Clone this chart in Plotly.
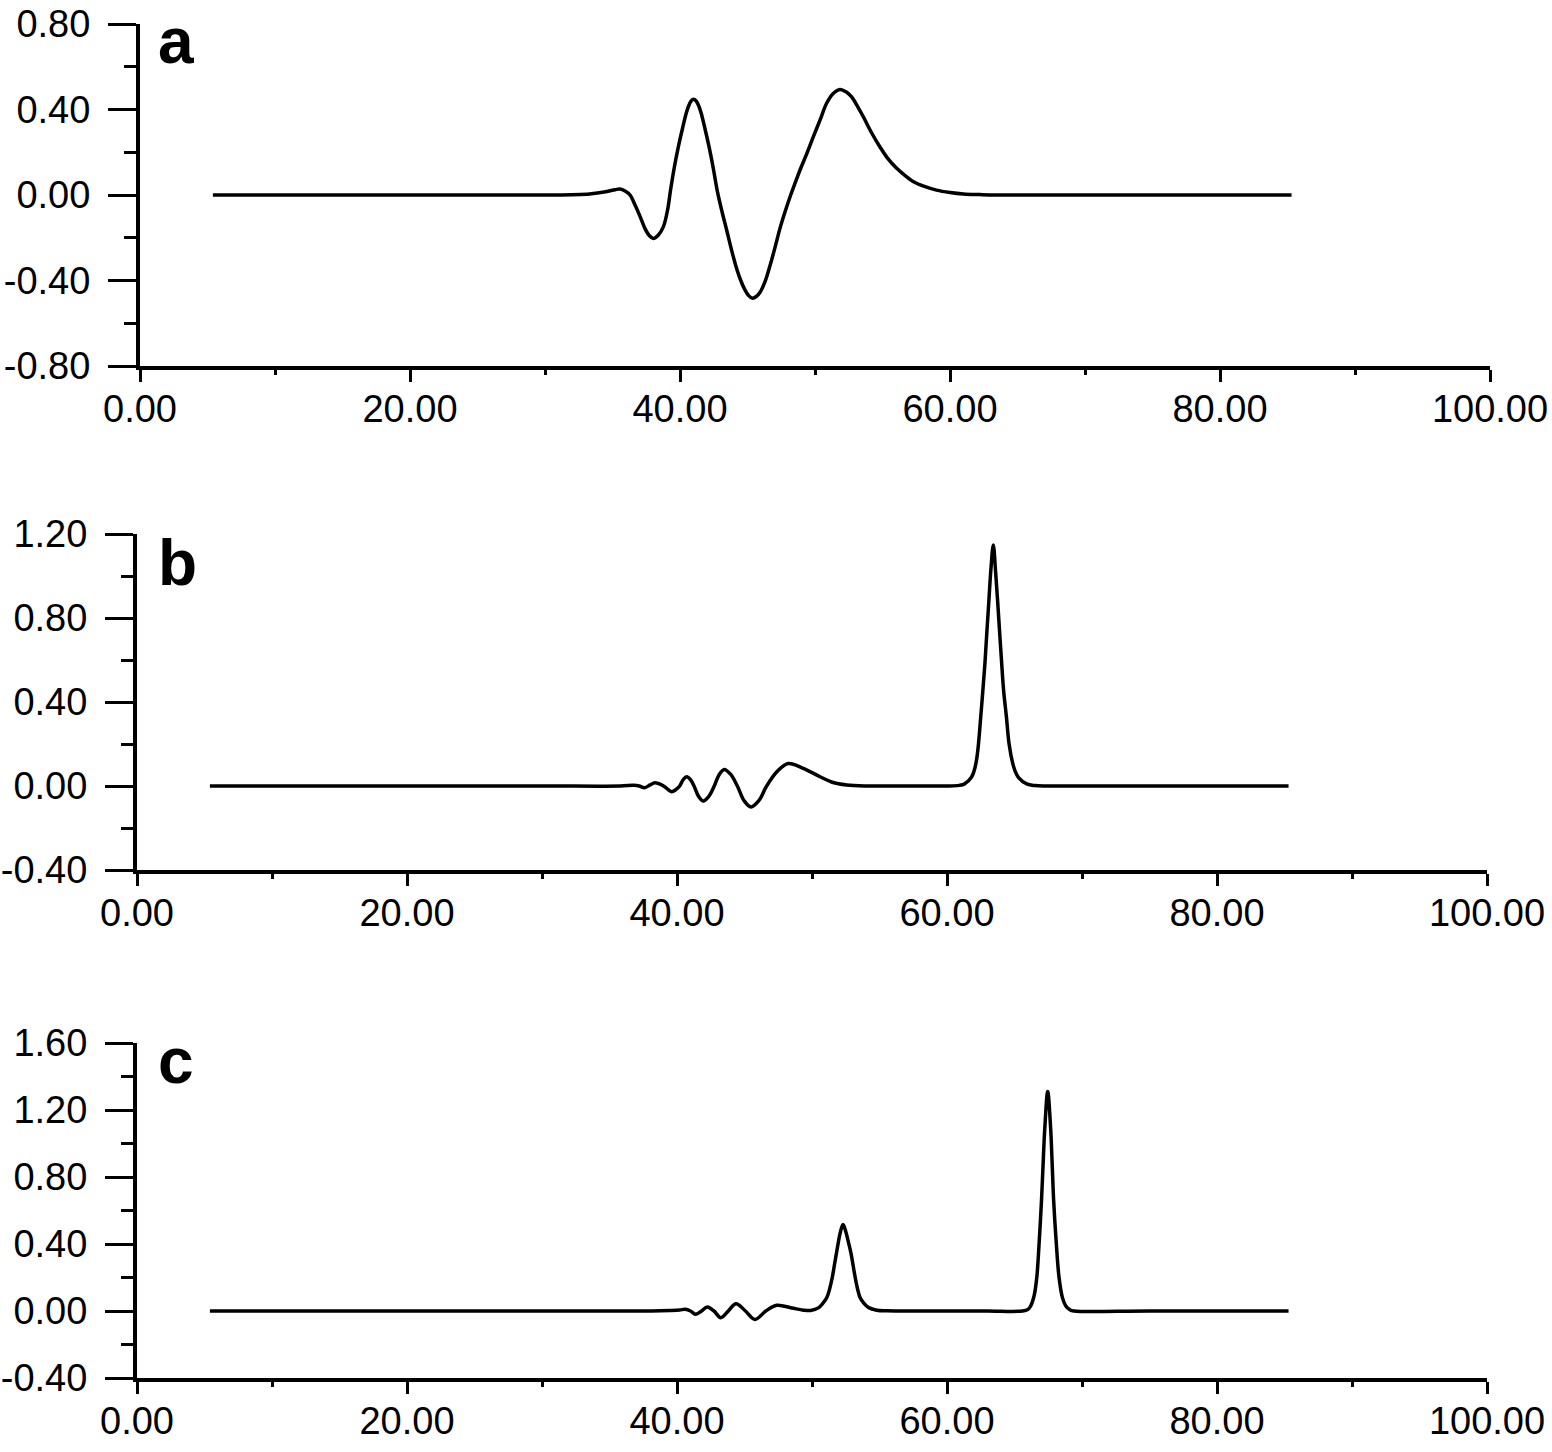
import plotly.graph_objects as go

# ---- data ----
x_a = [5.4, 20, 30, 33.3, 34.5, 35.2, 35.56, 35.93, 36.3, 36.67, 37.04, 37.4, 37.73, 38.02, 38.4,
       38.77, 39.08, 39.3, 39.58, 39.88, 40.18, 40.46, 40.63, 40.83, 41.0, 41.2, 41.4, 41.57,
       41.85, 42.15, 42.45, 42.75, 43.1, 43.46, 43.83, 44.2, 44.5, 44.81, 45.1, 45.36, 45.65,
       45.93, 46.3, 46.67, 47.04, 47.41, 47.8, 48.2, 48.55, 48.89, 49.4, 49.88, 50.37, 50.86,
       51.35, 51.85, 52.3, 52.7, 53.15, 53.58, 54.2, 54.8, 55.4, 56.05, 56.7, 57.3, 58.1, 59.0,
       60.0, 61.0, 62.2, 63.5, 70, 85.3]
y_a = [0, 0, 0, 0.005, 0.015, 0.025, 0.028, 0.019, 0.0, -0.047, -0.10, -0.156, -0.19, -0.203,
       -0.187, -0.148, -0.07, 0.023, 0.13, 0.226, 0.31, 0.382, 0.415, 0.44, 0.448, 0.44, 0.415,
       0.382, 0.31, 0.226, 0.13, 0.023, -0.075, -0.165, -0.26, -0.345, -0.40, -0.444, -0.472,
       -0.483, -0.475, -0.455, -0.405, -0.33, -0.245, -0.155, -0.075, 0.0, 0.06, 0.117, 0.195,
       0.273, 0.35, 0.429, 0.475, 0.494, 0.483, 0.46, 0.415, 0.366, 0.29, 0.226, 0.17, 0.125,
       0.09, 0.062, 0.04, 0.023, 0.012, 0.005, 0.002, 0, 0, 0]

x_b = [5.4, 20, 30, 35.8, 36.8, 37.2, 37.6, 38.0, 38.37, 39.0, 39.6, 39.9, 40.2, 40.46, 40.72,
       41.0, 41.26, 41.6, 41.95, 42.35, 42.76, 43.13, 43.5, 43.98, 44.47, 44.97, 45.48, 46.06,
       46.64, 47.4, 48.24, 49.3, 50.6, 51.5, 52.57, 54, 57, 60.0, 60.9, 61.3, 61.8, 62.0, 62.15,
       62.3, 62.5, 62.65, 62.81, 62.95, 63.1, 63.25, 63.43, 63.6, 63.75, 63.9, 64.05, 64.2, 64.4,
       64.6, 64.86, 65.05, 65.3, 65.9, 66.5, 67.5, 72, 85.3]
y_b = [0, 0, 0, 0, 0.003, 0.0, -0.008, 0.005, 0.015, 0.0, -0.027, -0.018, 0.0, 0.03, 0.044,
       0.03, 0.0, -0.05, -0.072, -0.05, 0.0, 0.055, 0.079, 0.055, 0.0, -0.07, -0.10, -0.07,
       0.0, 0.068, 0.107, 0.085, 0.044, 0.018, 0.005, 0.0, 0, 0, 0.003, 0.01, 0.04, 0.07, 0.11,
       0.18, 0.33, 0.45, 0.584, 0.73, 0.88, 1.03, 1.148, 1.02, 0.88, 0.73, 0.584, 0.45, 0.33,
       0.2, 0.11, 0.07, 0.04, 0.01, 0.002, 0, 0, 0]

x_c = [5.4, 20, 30, 38.1, 39.5, 40.2, 40.6, 41.0, 41.4, 41.82, 42.24, 42.74, 43.24, 43.8, 44.37,
       45.07, 45.78, 46.58, 47.39, 48.5, 49.36, 49.9, 50.5, 50.8, 51.1, 51.3, 51.5, 51.65, 51.8,
       51.95, 52.1, 52.3, 52.5, 52.7, 52.9, 53.05, 53.2, 53.38, 53.56, 53.85, 54.2, 54.8, 55.5,
       57, 60, 63, 65.6, 66.0, 66.2, 66.45, 66.65, 66.82, 67.0, 67.12, 67.25, 67.46, 67.67,
       67.78, 67.9, 68.1, 68.3, 68.55, 68.8, 69.1, 69.4, 75, 85.3]
y_c = [0, 0, 0, 0, 0.003, 0.006, 0.01, 0.0, -0.02, 0.0, 0.024, 0.0, -0.04, 0.0, 0.044,
       0.0, -0.05, 0.0, 0.034, 0.018, 0.005, 0.003, 0.02, 0.045, 0.08, 0.13, 0.2, 0.27, 0.34,
       0.41, 0.47, 0.516, 0.475, 0.41, 0.34, 0.27, 0.2, 0.13, 0.08, 0.045, 0.02, 0.005, 0.001,
       0, 0, 0, 0, 0.01, 0.03, 0.09, 0.2, 0.4, 0.66, 0.88, 1.1, 1.31, 1.1,
       0.9, 0.66, 0.4, 0.2, 0.08, 0.03, 0.008, 0, 0, 0]

panel_labels = ["a", "b", "c"]

x_tickvals = [0, 20, 40, 60, 80, 100]
x_ticktext = ["0.00", "20.00", "40.00", "60.00", "80.00", "100.00"]
x_minor = [10, 30, 50, 70, 90]

ya_tickvals = [-0.8, -0.4, 0.0, 0.4, 0.8]
ya_ticktext = ["-0.80", "-0.40", "0.00", "0.40", "0.80"]
ya_minor = [-0.6, -0.2, 0.2, 0.6]

yb_tickvals = [-0.4, 0.0, 0.4, 0.8, 1.2]
yb_ticktext = ["-0.40", "0.00", "0.40", "0.80", "1.20"]
yb_minor = [-0.2, 0.2, 0.6, 1.0]

yc_tickvals = [-0.4, 0.0, 0.4, 0.8, 1.2, 1.6]
yc_ticktext = ["-0.40", "0.00", "0.40", "0.80", "1.20", "1.60"]
yc_minor = [-0.2, 0.2, 0.6, 1.0, 1.4]

# ---- figure ----
W, H = 1552, 1452
FONT = "Liberation Sans, Arial, sans-serif"
TICKFONT = dict(family=FONT, size=38, color="black")

fig = go.Figure()
series = [(x_a, y_a, "x", "y"), (x_b, y_b, "x2", "y2"), (x_c, y_c, "x3", "y3")]
for xs, ys, xa, ya in series:
    fig.add_trace(go.Scatter(x=xs, y=ys, xaxis=xa, yaxis=ya, mode="lines",
                             line=dict(color="black", width=3.5, shape="spline",
                                       smoothing=1.0, simplify=False),
                             showlegend=False, hoverinfo="skip"))

def px_dom(a, b, total):
    return [a / total, b / total]

x_doms = [px_dom(140, 1490, W), px_dom(137, 1487, W), px_dom(137, 1487, W)]
y_doms = [[1 - 366 / H, 1 - 24 / H], [1 - 870 / H, 1 - 534 / H], [1 - 1378 / H, 1 - 1043 / H]]
y_ranges = [[-0.8, 0.8], [-0.4, 1.2], [-0.4, 1.6]]
y_ticks = [(ya_tickvals, ya_ticktext, ya_minor), (yb_tickvals, yb_ticktext, yb_minor),
           (yc_tickvals, yc_ticktext, yc_minor)]

layout = dict(width=W, height=H, margin=dict(l=0, r=0, t=0, b=0),
              paper_bgcolor="white", plot_bgcolor="white", showlegend=False)
for i in range(3):
    sx = "" if i == 0 else str(i + 1)
    layout["xaxis" + sx] = dict(
        domain=x_doms[i], range=[0, 100], anchor="y" + sx,
        tickmode="array", tickvals=x_tickvals, ticktext=x_ticktext,
        ticks="outside", ticklen=12, tickwidth=3, tickcolor="black",
        minor=dict(tickmode="array", tickvals=x_minor, ticks="outside", ticklen=5,
                   tickwidth=3, tickcolor="black"),
        showline=True, linewidth=4, linecolor="black", showgrid=False, zeroline=False,
        tickfont=TICKFONT, ticklabelstandoff=-6, automargin=False, fixedrange=True)
    tv, tt, mn = y_ticks[i]
    layout["yaxis" + sx] = dict(
        domain=y_doms[i], range=y_ranges[i], anchor="x" + sx,
        tickmode="array", tickvals=tv, ticktext=tt,
        ticks="outside", ticklen=28, tickwidth=3, tickcolor="black",
        minor=dict(tickmode="array", tickvals=mn, ticks="outside", ticklen=12,
                   tickwidth=3, tickcolor="black"),
        showline=True, linewidth=4, linecolor="black", showgrid=False, zeroline=False,
        tickfont=TICKFONT, ticklabelstandoff=10, automargin=False, fixedrange=True)

fig.update_layout(**layout)

label_tops = [3, 525, 1023]
for lab, top in zip(panel_labels, label_tops):
    fig.add_annotation(text="<b>%s</b>" % lab, xref="paper", yref="paper",
                       x=156 / W, y=1 - top / H, xanchor="left", yanchor="top",
                       showarrow=False, font=dict(family=FONT, size=64, color="black"))

fig.write_html("out.html")
